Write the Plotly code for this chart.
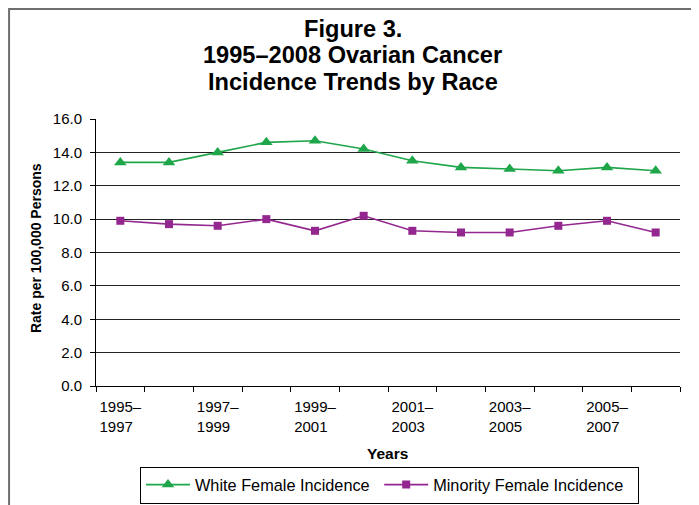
import plotly.graph_objects as go

periods = ["1995–1997", "1996–1998", "1997–1999", "1998–2000", "1999–2001", "2000–2002",
           "2001–2003", "2002–2004", "2003–2005", "2004–2006", "2005–2007", "2006–2008"]
white = [13.4, 13.4, 14.0, 14.6, 14.7, 14.2, 13.5, 13.1, 13.0, 12.9, 13.1, 12.9]
minority = [9.9, 9.7, 9.6, 10.0, 9.3, 10.2, 9.3, 9.2, 9.2, 9.6, 9.9, 9.2]
title_lines = ["Figure 3.", "1995–2008 Ovarian Cancer", "Incidence Trends by Race"]
series_names = ["White Female Incidence", "Minority Female Incidence"]

GREEN = "#1fa64a"
PURPLE = "#93278f"
FONT = "Liberation Sans, Arial, sans-serif"
NB = "\u00a0"

# two-line labels, every other period; trailing nbsp keeps both lines left-aligned
tick_labels = [p.replace("–", "–<br>") + NB * 2 if i % 2 == 0 else "" for i, p in enumerate(periods)]

fig = go.Figure()
fig.add_trace(go.Scatter(x=periods, y=white, mode="lines+markers", name=series_names[0] + NB,
                         line=dict(color=GREEN, width=1.6),
                         marker=dict(symbol="triangle-up", size=11, color=GREEN)))
fig.add_trace(go.Scatter(x=periods, y=minority, mode="lines+markers", name=series_names[1] + NB * 2,
                         line=dict(color=PURPLE, width=1.6),
                         marker=dict(symbol="square", size=8, color=PURPLE)))

# page body has an 8px margin: work in screen coords and shift by OFF
OFF = 8
SW, SH = 699, 505
W, H = SW - OFF, SH - OFF
L = 96 - OFF
R = W - (680.5 - OFF)
T = 119 - OFF
B = H - (386 - OFF)
pw, ph = W - L - R, H - T - B

def px(xs):
    return (xs - OFF - L) / pw

def py(ys):
    return (H - B - (ys - OFF)) / ph

annotations = []
for line, yc in zip(title_lines, [29, 55, 82]):
    annotations.append(dict(text="<b>%s</b>" % line, x=px(353), xref="paper",
                            y=py(yc), yref="paper", showarrow=False,
                            xanchor="center", yanchor="middle",
                            font=dict(family=FONT, size=23.6, color="black")))

annotations += [
    dict(text="<b>Years</b>", x=px(388), y=py(453), xref="paper", yref="paper",
         showarrow=False, xanchor="center", yanchor="middle", font=dict(family=FONT, size=15.5)),
    dict(text="<b>Rate per 100,000 Persons</b>", x=px(36), y=py(248), xref="paper", yref="paper",
         showarrow=False, xanchor="center", yanchor="middle", textangle=-90,
         font=dict(family=FONT, size=14)),
]

fig.update_layout(
    width=W, height=H,
    margin=dict(l=L, r=R, t=T, b=B, autoexpand=False),
    paper_bgcolor="white", plot_bgcolor="white",
    font=dict(family=FONT, size=15, color="black"),
    showlegend=True,
    legend=dict(orientation="h", x=(389.5 - OFF) / W, xref="container", xanchor="center",
                y=1 - (485 - OFF) / H, yref="container", yanchor="middle",
                bordercolor="black", borderwidth=1, font=dict(family=FONT, size=16.3),
                itemwidth=44, tracegroupgap=0),
    xaxis=dict(type="category", tickmode="array", tickvals=periods, ticktext=tick_labels,
               tickson="boundaries", ticks="outside", ticklen=5, tickcolor="black",
               showline=True, linecolor="black", linewidth=1, showgrid=False, automargin=False,
               ticklabelstandoff=7,
               tickfont=dict(family=FONT, size=15), tickangle=0, range=[-0.5, 11.5]),
    yaxis=dict(range=[0, 16], dtick=2, tickformat=".1f", ticks="outside", ticklen=5,
               tickcolor="black", showline=True, linecolor="black", linewidth=1,
               showgrid=True, gridcolor="#222222", gridwidth=1, zeroline=False, automargin=False,
               ticklabelstandoff=5,
               tickfont=dict(family=FONT, size=15)),
    annotations=annotations,
    shapes=[
        dict(type="rect", xref="paper", yref="paper",
             x0=px(9), x1=px(697), y0=py(520), y1=py(9),
             line=dict(color="#6e6e6e", width=2), fillcolor="rgba(0,0,0,0)", layer="below"),
    ],
)

fig.write_html("out.html")
